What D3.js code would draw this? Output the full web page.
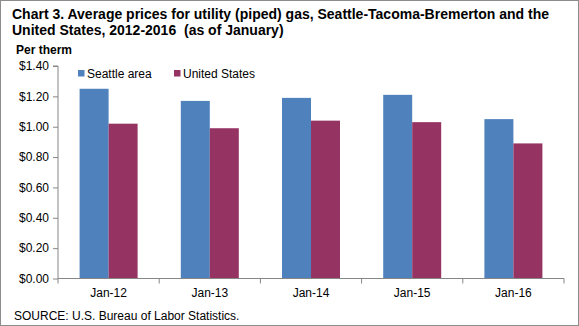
<!DOCTYPE html>
<html>
<head>
<meta charset="utf-8">
<script src="https://cdn.jsdelivr.net/npm/d3@7"></script>
<style>
  body { margin: 0; background: #fff; }
  svg { font-family: "Liberation Sans", Arial, sans-serif; display: block; }
</style>
</head>
<body>
<div class="chart"></div>
<script>
var categories = ["Jan-12", "Jan-13", "Jan-14", "Jan-15", "Jan-16"];
var seattle = [1.25, 1.17, 1.19, 1.21, 1.05];
var unitedStates = [1.02, 0.99, 1.04, 1.03, 0.89];
var seriesNames = ["Seattle area", "United States"];
var colors = ["#4f81bd", "#953363"];
var yTicks = [0, 0.2, 0.4, 0.6, 0.8, 1.0, 1.2, 1.4];

function make_chart() {
  var width = 579, height = 326;
  var left = 58, right = 564, top = 66, bottom = 278.5;

  var svg = d3.select(".chart").append("svg")
    .attr("width", width)
    .attr("height", height);

  // outer frame
  svg.append("rect")
    .attr("x", 0.5).attr("y", 0.5)
    .attr("width", width - 1).attr("height", height - 1)
    .attr("fill", "white").attr("stroke", "#8c8c8c");

  svg.append("text")
    .attr("x", 12).attr("y", 19)
    .style("font-size", "14px").style("font-weight", "bold")
    .text("Chart 3. Average prices for utility (piped) gas, Seattle-Tacoma-Bremerton and the");
  svg.append("text")
    .attr("x", 12).attr("y", 35)
    .style("font-size", "14px").style("font-weight", "bold")
    .style("white-space", "pre")
    .text("United States, 2012-2016  (as of January)");
  svg.append("text")
    .attr("x", 16).attr("y", 54)
    .style("font-size", "12px").style("font-weight", "bold")
    .text("Per therm");

  var x = d3.scaleBand().domain(categories).range([left, right]);
  var x1 = d3.scaleBand().domain(seriesNames).range([0, x.bandwidth()]).paddingOuter(0.745).paddingInner(0);
  var y = d3.scaleLinear().domain([0, 1.4]).range([bottom, top]);

  var series = [seattle, unitedStates];
  series.forEach(function(vals, si) {
    svg.append("g").selectAll("rect")
      .data(vals)
      .enter().append("rect")
      .attr("x", function(d, i) { return x(categories[i]) + x1(seriesNames[si]); })
      .attr("y", function(d) { return y(d); })
      .attr("width", x1.bandwidth())
      .attr("height", function(d) { return y(0) - y(d); })
      .attr("fill", colors[si]);
  });

  var yAxis = svg.append("g")
    .attr("transform", "translate(" + left + ",0)")
    .call(d3.axisLeft(y).tickValues(yTicks).tickSize(5).tickPadding(4)
      .tickFormat(function(d) { return "$" + d3.format(".2f")(d); }));
  yAxis.selectAll("text").style("font-size", "12px").attr("fill", "#000");
  yAxis.selectAll("line, path").attr("stroke", "#868686");
  yAxis.select(".domain").attr("d", "M-5," + top + "H0V" + bottom);

  var xAxis = svg.append("g")
    .attr("transform", "translate(0," + bottom + ")")
    .call(d3.axisBottom(x).tickSize(0).tickPadding(10));
  xAxis.selectAll("text").style("font-size", "12px").attr("fill", "#000");
  xAxis.select(".domain").attr("stroke", "#868686").attr("d", "M" + left + ",0H" + right);
  // boundary ticks between categories
  xAxis.selectAll(".bound")
    .data(categories.map(function(c) { return x(c); }).concat([right]))
    .enter().append("line")
    .attr("x1", function(d) { return d; }).attr("x2", function(d) { return d; })
    .attr("y1", 0).attr("y2", 5)
    .attr("stroke", "#868686");

  var legend = svg.append("g");
  var legendX = [78, 174];
  seriesNames.forEach(function(name, i) {
    legend.append("rect")
      .attr("x", legendX[i]).attr("y", 70)
      .attr("width", 6.5).attr("height", 6.5)
      .attr("fill", colors[i]);
    legend.append("text")
      .attr("x", legendX[i] + 9).attr("y", 77.5)
      .style("font-size", "12px")
      .text(name);
  });

  svg.append("text")
    .attr("x", 14).attr("y", 320)
    .style("font-size", "12px")
    .text("SOURCE: U.S. Bureau of Labor Statistics.");
}

make_chart();
</script>
</body>
</html>
